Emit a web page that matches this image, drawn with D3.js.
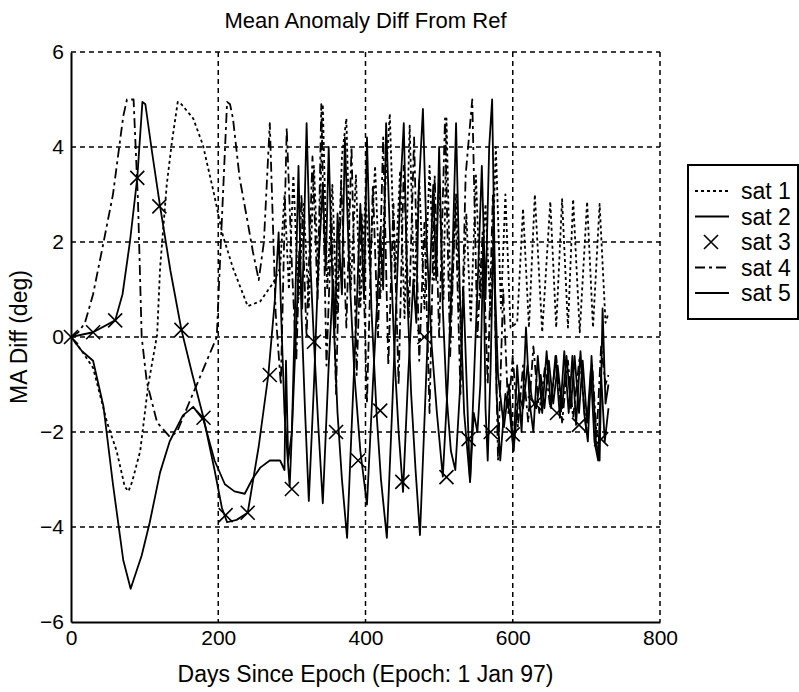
<!DOCTYPE html>
<html>
<head>
<meta charset="utf-8">
<script src="https://cdn.jsdelivr.net/npm/d3@7"></script>
<style>
  html, body { margin: 0; padding: 0; background: #fff; }
  svg { display: block; }
  text { font-family: "Liberation Sans", Arial, Helvetica, sans-serif; fill: #000; }
</style>
</head>
<body>
<script>
// Mean anomaly difference of each satellite from the reference orbit, [day, deg]
const sat1 = [[0,0],[15,-0.3],[30,-0.65],[49,-1.8],[62,-2.4],[73,-3.15],[78,-3.25],[83,-3.05],[94,-2.4],[105,-1.0],[117,0.05],[121,1.45],[130,3.2],[137,4.1],[145,4.95],[150,4.9],[166,4.6],[179,4.05],[193,3.1],[206,2.15],[220,1.45],[240,0.65],[257,0.75],[275,1.15],[284,1.45],
  [290,3.0],[296,1.0],[302,3.4],[309,0.8],[316,2.8],[323,0.6],[330,3.6],[336,1.2],[342,4.9],[348,1.0],[355,3.2],[361,0.5],[368,3.8],[374,4.6],[380,1.0],[387,3.4],[393,0.6],[400,3.0],[406,1.4],[413,3.6],[420,0.8],[427,3.2],[433,4.7],[440,1.2],[447,3.5],[453,0.4],[460,4.45],[466,1.0],[473,3.3],[480,0.6],[487,3.6],[493,1.2],[500,3.2],[506,0.8],[510,4.6],[516,0.4],[523,3.0],[530,-0.2],[537,2.6],[543,0.3],[550,3.4],[556,0.8],[563,2.8],[570,0.4],[577,4.0],[584,0.6],[590,3.0],[597,0.2],
  [606,0.3],[614,2.7],[622,0.2],[630,3.0],[640,0.1],[651,2.85],[659,0.2],[667,2.9],[675,0.2],[682,2.9],[691,0.1],[701,2.85],[709,0.2],[718,2.8],[726,0.3],[730,0.5]];

const sat2 = [[0,0],[30,0.1],[60,0.35],[70,0.9],[80,2.0],[90,3.35],[97,4.95],[101,4.9],[110,3.9],[121,2.75],[135,1.4],[150,0.15],[165,-0.8],[180,-1.7],[195,-2.8],[205,-3.6],[212,-3.9],[225,-3.85],[240,-3.7],[255,-2.3],[268,-0.8],[277,0.8],[282,2.2],[286,0.2],[290,-1.6],[297,-3.15],
  [304,-0.5],[310,1.8],[314,0.6],[320,4.5],[325,1.6],[330,-0.1],[336,-1.9],[342,-3.5],[350,-0.6],[356,1.2],[359,0.2],[362,2.6],[368,0.9],[372,4.2],[378,1.4],[385,-0.8],[393,-2.4],[402,-3.53],[410,-1.0],[416,0.8],[420,2.2],[424,1.0],[428,4.5],[434,1.8],[440,-0.6],[445,-2.0],[451,-3.26],[458,-0.8],[465,1.2],[469,0.3],[472,3.0],[478,4.8],[483,2.0],[490,-0.2],[497,-1.6],[505,-2.94],[512,-0.9],[518,1.6],[523,4.5],[528,1.0],[534,-1.6],[542,-3.05],[548,-0.6],[553,1.4],[558,3.6],[563,0.8],[568,4.0],[572,5.0],[576,1.0],[580,-0.8],[588,-1.9],[595,-1.0],
  [601,-2.4],[606,-0.6],[612,-2.0],[618,0.2],[623,-1.4],[628,-2.0],[634,-0.4],[640,-1.6],[646,-0.3],[652,-1.5],[658,-0.4],[664,-1.7],[670,-0.3],[676,-1.6],[681,-0.4],[686,-1.85],[692,-0.3],[697,-1.6],[702,-2.2],[707,-0.4],[713,-2.2],[718,-2.6],[722,0.6],[726,-1.4],[730,-1.0]];

// sat 3 is sampled every 30 days and shown as markers only
const sat3Days = [0,30,60,90,120,150,180,210,240,270,300,330,360,390,420,450,480,510,540,570,600,630,660,690,720];
const sat3Vals = [0,0.1,0.35,3.35,2.75,0.15,-1.7,-3.75,-3.7,-0.8,-3.2,-0.1,-2.0,-2.6,-1.55,-3.05,0.0,-2.95,-2.15,-2.0,-2.05,-1.4,-1.6,-1.85,-2.15];

const sat4 = [[0,0],[10,0.1],[19,0.3],[30,0.9],[43,1.9],[57,3.0],[71,4.65],[76,5.0],[85,5.0],[91,2.85],[96,0.0],[103,-0.95],[117,-1.8],[134,-2.1],[144,-2.0],[160,-1.4],[175,-0.85],[198,0.0],[202,1.45],[206,2.85],[212,4.95],[216,4.9],[220,4.6],[229,3.35],[239,2.5],[247,1.8],[255,1.2],[262,2.0],
  [270,4.5],[278,0.5],[285,-1.0],[293,4.4],[300,1.5],[306,-0.5],[313,3.0],[320,0.0],[328,3.8],[335,0.8],[340,4.9],[347,-0.6],[354,2.5],[360,-1.2],[367,3.3],[374,0.2],[381,4.0],[388,-0.8],[395,2.6],[402,-1.4],[410,3.2],[417,0.0],[424,4.2],[431,-0.6],[438,2.8],[445,-1.0],[452,3.6],[459,0.4],[466,4.2],[473,-0.5],[480,2.4],[487,-1.6],[494,3.4],[500,0.0],[508,4.6],[515,-0.4],[522,2.8],[529,-1.2],[536,3.4],[545,5.0],[552,0.0],[559,2.2],[566,-1.0],[573,3.0],[580,-2.6],[587,1.0],[594,-1.6],[600,-0.4],
  [607,-1.9],[614,-0.6],[621,-1.8],[628,-0.2],[636,-1.6],[644,-0.6],[651,-1.5],[659,-0.4],[667,-1.8],[675,-0.5],[682,-1.7],[691,-0.4],[700,-2.0],[708,-0.6],[714,-2.1],[720,-0.2],[726,-1.0],[730,-0.8]];

const sat5 = [[0,0],[15,-0.3],[30,-0.5],[44,-1.45],[57,-3.1],[71,-4.7],[81,-5.3],[96,-4.6],[107,-3.9],[121,-2.85],[134,-2.2],[152,-1.65],[166,-1.47],[180,-1.75],[195,-2.6],[209,-3.1],[222,-3.25],[236,-3.3],[246,-3.0],[257,-2.75],[270,-2.6],[284,-2.6],[290,-2.8],[292,-0.5],[295,-2.6],[300,-2.0],
  [305,1.0],[309,3.6],[313,0.5],[318,-1.6],[323,-3.45],[330,-1.0],[336,1.5],[342,3.2],[346,1.4],[350,4.0],[356,0.6],[362,-1.6],[368,-3.0],[375,-4.23],[382,-1.6],[388,0.6],[393,2.8],[398,0.8],[402,4.2],[408,0.6],[415,-1.6],[421,-3.0],[429,-4.23],[436,-1.6],[442,0.8],[447,3.0],[452,4.5],[457,0.8],[462,-1.2],[468,-2.8],[474,-4.17],[480,-1.8],[486,0.6],[492,3.2],[496,1.2],[500,4.0],[505,0.6],[510,-1.2],[516,-2.4],[522,-2.8],[528,-1.2],[533,1.0],[537,-0.8],[542,-3.05],[547,-1.6],[552,-2.0],[556,-1.0],[560,2.0],[563,-1.5],[566,-2.6],[570,-0.6],[574,2.4],[578,-1.2],[583,-2.6],[590,-1.2],[596,-1.6],
  [601,-2.4],[608,-1.2],[614,-1.5],[620,-0.6],[626,-1.3],[632,-1.5],[638,-0.8],[643,-1.5],[649,-0.5],[655,-1.4],[661,-0.6],[667,-1.5],[673,-0.4],[679,-1.5],[684,-0.4],[690,-1.6],[695,-0.5],[701,-1.8],[706,-0.7],[711,-2.2],[716,-2.6],[720,-0.8],[725,-2.2],[730,-1.5]];

const xTicks = [0, 200, 400, 600, 800];
const yTicks = [-6, -4, -2, 0, 2, 4, 6];
const legendLabels = ["sat 1", "sat 2", "sat 3", "sat 4", "sat 5"];

const W = 799, H = 692;
const plot = { left: 71, right: 660, top: 52, bottom: 622 };

const svg = d3.select("body").append("svg").attr("width", W).attr("height", H);

const x = d3.scaleLinear().domain([0, 800]).range([plot.left, plot.right]);
const y = d3.scaleLinear().domain([-6, 6]).range([plot.bottom, plot.top]);

// grid (dotted, including the top and right edges of the box)
const grid = svg.append("g").attr("stroke", "#000").attr("stroke-width", 1.5).attr("stroke-dasharray", "5,4");
grid.selectAll("line.gx").data(xTicks.filter(d => d > 0)).join("line")
  .attr("x1", d => x(d)).attr("x2", d => x(d)).attr("y1", plot.top).attr("y2", plot.bottom);
grid.selectAll("line.gy").data(yTicks.filter(d => d > -6)).join("line")
  .attr("x1", plot.left).attr("x2", plot.right).attr("y1", d => y(d)).attr("y2", d => y(d));

// axes
const xAxis = d3.axisBottom(x).tickValues(xTicks).tickSize(0).tickPadding(8);
const yAxis = d3.axisLeft(y).tickValues(yTicks).tickSize(0).tickPadding(7);
const gx = svg.append("g").attr("transform", `translate(0,${plot.bottom})`).call(xAxis);
const gy = svg.append("g").attr("transform", `translate(${plot.left},0)`).call(yAxis);
[gx, gy].forEach(g => {
  g.select(".domain").attr("stroke", "#000").attr("stroke-width", 2);
  g.selectAll("text").attr("font-size", 21).attr("font-family", "Liberation Sans, Arial, sans-serif").attr("fill", "#000");
});

// series
const line = d3.line().x(d => x(d[0])).y(d => y(d[1]));
const series = [
  { data: sat1, dash: "3,3" },
  { data: sat2, dash: null },
  { data: sat4, dash: "10,4,3,4" },
  { data: sat5, dash: null }
];
const lines = svg.append("g").attr("fill", "none").attr("stroke", "#000").attr("stroke-width", 1.8).attr("stroke-linejoin", "round");
series.forEach(s => {
  lines.append("path").attr("d", line(s.data)).attr("stroke-dasharray", s.dash);
});

// sat 3 markers
const mk = 7;
const marks = svg.append("g").attr("stroke", "#000").attr("stroke-width", 1.6);
sat3Days.forEach((d, i) => {
  const cx = x(d), cy = y(sat3Vals[i]);
  marks.append("path").attr("d", `M${cx - mk},${cy - mk}L${cx + mk},${cy + mk}M${cx - mk},${cy + mk}L${cx + mk},${cy - mk}`);
});

// titles
svg.append("text").attr("x", (plot.left + plot.right) / 2).attr("y", 28).attr("text-anchor", "middle")
  .attr("font-size", 22).text("Mean Anomaly Diff From Ref");
svg.append("text").attr("x", (plot.left + plot.right) / 2).attr("y", 682).attr("text-anchor", "middle")
  .attr("font-size", 23).text("Days Since Epoch (Epoch: 1 Jan 97)");
svg.append("text").attr("transform", `translate(27,${(plot.top + plot.bottom) / 2}) rotate(-90)`).attr("text-anchor", "middle")
  .attr("font-size", 23).text("MA Diff (deg)");

// legend
const lg = { left: 688, right: 798, top: 165, bottom: 319, row0: 191, step: 25.5 };
const legend = svg.append("g");
legend.append("rect").attr("x", lg.left).attr("y", lg.top).attr("width", lg.right - lg.left).attr("height", lg.bottom - lg.top)
  .attr("fill", "#fff").attr("stroke", "#000").attr("stroke-width", 2);
const styles = ["3,3", null, "x", "10,4,3,4", null];
legendLabels.forEach((lab, i) => {
  const ly = lg.row0 + i * lg.step;
  if (styles[i] === "x") {
    const cx = 711;
    legend.append("path").attr("d", `M${cx - mk},${ly - mk}L${cx + mk},${ly + mk}M${cx - mk},${ly + mk}L${cx + mk},${ly - mk}`)
      .attr("stroke", "#000").attr("stroke-width", 1.6);
  } else {
    legend.append("line").attr("x1", 695).attr("x2", 729).attr("y1", ly).attr("y2", ly)
      .attr("stroke", "#000").attr("stroke-width", 1.8).attr("stroke-dasharray", styles[i]);
  }
  legend.append("text").attr("x", 741).attr("y", ly + 8).attr("font-size", 23).text(lab);
});
</script>
</body>
</html>
